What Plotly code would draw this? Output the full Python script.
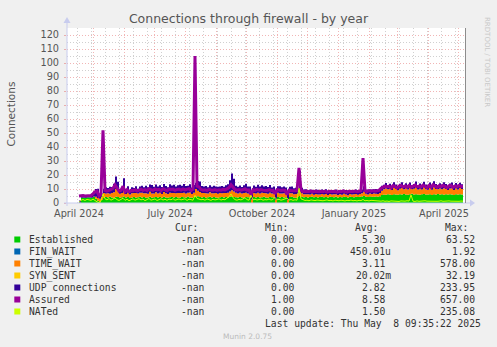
import plotly.graph_objects as go
import pandas as pd

# ---------------- data (2-day samples starting 2024-04-17) ----------------
START = "2024-04-17"

established = [
    0.3, 3.8, 4.0, 3.7, 4.1, 3.9, 3.8, 4.2, 3.0, 1.6,
    0.6, 2.2, 3.6, 4.3, 3.9, 4.4, 4.0, 3.7, 4.5, 4.2,
    3.8, 4.1, 4.6, 3.9, 4.2, 3.6, 4.0, 4.3, 3.8, 4.1,
    4.4, 3.9, 4.2, 3.7, 4.0, 4.5, 3.8, 4.1, 4.3, 3.9,
    4.2, 3.8, 4.4, 4.0, 3.7, 4.1, 4.3, 3.9, 4.2, 4.0,
    3.8, 4.3, 4.1, 3.9, 4.4, 4.0, 3.7, 4.2, 4.5, 4.8,
    4.3, 4.0, 4.2, 3.8, 4.1, 4.4, 3.9, 4.2, 4.0, 3.7,
    4.1, 4.3, 3.9, 4.2, 4.0, 4.4, 4.6, 4.3, 4.1, 3.9,
    4.2, 4.0, 3.8, 4.3, 4.1, 3.9, 0.0, 4.2, 4.0, 4.3,
    3.9, 4.1, 4.4, 4.0, 3.8, 4.2, 4.1, 3.9, 0.0, 4.3,
    4.0, 4.2, 3.9, 4.1, 0.0, 4.2, 4.4, 4.0, 3.8, 4.3,
    5.0, 4.4, 4.1, 4.3, 4.0, 4.2, 4.5, 4.1, 4.3, 4.0,
    4.2, 4.4, 4.1, 4.3, 4.0, 4.5, 4.2, 4.1, 4.4, 4.0,
    4.3, 4.1, 4.5, 4.2, 4.0, 4.4, 4.3, 4.1, 4.5, 4.2,
    4.4, 4.6, 5.0, 4.5, 4.3, 4.6, 4.4, 4.5, 4.7, 4.4,
    4.8, 5.8, 6.1, 5.9, 6.2, 6.0, 5.8, 6.3, 6.1, 5.9,
    6.2, 6.0, 6.4, 6.1, 5.9, 6.2, 6.6, 6.0, 6.3, 6.1,
    5.9, 6.2, 6.4, 6.0, 6.1, 6.3, 5.8, 6.2, 6.0, 6.4,
    6.1, 6.3, 5.9, 6.2, 6.0, 6.3, 6.1, 5.8, 6.2, 6.0,
    6.3, 6.1, 5.9,
]

time_wait = [
    0, 0, 0, 0, 0, 0, 0, 0.5, 1.5, 2.0,
    2.5, 2.0, 3.5, 2.5, 3.0, 2.2, 3.2, 4.0, 5.5, 4.5,
    2.8, 3.0, 4.0, 2.6, 3.2, 2.4, 3.0, 2.8, 3.4, 2.6,
    3.0, 3.4, 2.8, 3.2, 2.6, 3.5, 3.0, 2.7, 3.3, 2.9,
    3.1, 2.7, 3.4, 3.0, 2.8, 3.3, 2.9, 3.2, 2.7, 3.1,
    3.4, 2.9, 3.2, 2.8, 3.0, 3.5, 2.7, 3.1, 5.5, 4.0,
    3.5, 3.2, 2.9, 3.1, 2.7, 3.3, 3.0, 2.8, 3.2, 2.9,
    3.1, 2.7, 3.3, 3.0, 3.4, 3.8, 4.5, 4.0, 3.2, 2.9,
    3.1, 2.8, 3.3, 3.0, 2.7, 3.2, 2.5, 3.0, 2.8, 3.1,
    2.9, 3.2, 2.7, 3.0, 2.8, 3.1, 2.6, 2.9, 2.5, 3.0,
    2.8, 2.6, 3.0, 2.7, 2.4, 2.8, 2.5, 2.3, 2.6, 2.4,
    4.0, 2.5, 2.2, 2.0, 2.3, 1.9, 2.1, 1.8, 2.2, 2.0,
    1.8, 2.1, 1.9, 2.2, 1.7, 2.0, 1.8, 2.1, 1.9, 1.7,
    2.0, 1.8, 2.1, 1.9, 1.6, 2.0, 1.8, 2.2, 1.9, 1.7,
    2.0, 2.3, 3.0, 2.1, 1.8, 2.2, 2.0, 2.3, 1.9, 2.1,
    2.4, 3.0, 3.8, 4.5, 3.6, 4.2, 3.4, 4.6, 3.9, 3.2,
    4.0, 4.7, 3.5, 4.3, 3.8, 4.5, 3.2, 4.1, 4.8, 3.6,
    4.2, 3.5, 4.6, 3.9, 3.3, 4.4, 3.7, 4.9, 4.0, 3.4,
    4.3, 3.6, 4.7, 3.8, 3.2, 4.1, 4.5, 3.5, 4.2, 3.7,
    4.4, 3.9, 4.1,
]

udp = [
    1.5, 1.3, 1.5, 1.2, 1.4, 1.3, 1.6, 3.5, 5.5, 6.5,
    2.0, 2.5, 3.0, 4.5, 3.8, 5.0, 4.2, 6.0, 9.0, 6.5,
    3.5, 3.8, 9.0, 3.2, 4.5, 3.0, 4.2, 3.6, 4.8, 3.4,
    4.4, 5.0, 4.2, 5.5, 4.6, 5.2, 6.0, 4.8, 5.6, 5.0,
    5.4, 4.9, 5.8, 5.2, 4.7, 6.0, 5.3, 5.9, 4.8, 5.5,
    5.8, 5.1, 6.2, 5.4, 5.0, 5.9, 4.6, 5.6, 4.5, 7.0,
    7.5, 5.0, 4.6, 5.2, 4.4, 5.0, 4.7, 5.3, 4.5, 5.0,
    4.6, 5.1, 4.4, 5.5, 6.0, 8.0, 12.0, 9.0, 5.0, 4.8,
    5.2, 4.6, 5.5, 6.5, 5.0, 4.7, 6.0, 5.3, 4.8, 5.6,
    5.0, 5.4, 4.6, 5.2, 4.8, 5.5, 4.4, 5.0, 6.0, 4.7,
    5.1, 4.5, 4.9, 4.3, 6.0, 4.6, 4.8, 4.2, 4.5, 4.0,
    14.0, 4.0, 3.4, 3.6, 3.0, 3.3, 2.9, 3.4, 3.1, 3.5,
    3.0, 3.2, 2.8, 3.3, 3.0, 2.7, 3.1, 2.9, 3.4, 3.0,
    2.8, 3.2, 2.9, 3.1, 3.4, 2.8, 3.0, 2.7, 3.2, 2.9,
    3.1, 2.8, 4.0, 3.0, 3.3, 2.9, 3.2, 3.0, 3.4, 3.1,
    3.0, 3.5, 3.2, 3.8, 2.9, 3.6, 3.1, 4.0, 3.3, 2.8,
    3.6, 4.2, 3.0, 3.7, 3.2, 4.0, 2.9, 3.5, 4.3, 3.1,
    3.8, 3.2, 4.1, 3.4, 2.9, 3.9, 3.3, 4.4, 3.6, 3.0,
    3.7, 3.1, 4.2, 3.5, 2.8, 3.6, 4.0, 3.2, 3.9, 3.3,
    3.8, 3.4, 3.6,
]

assured = [
    5.0, 5.2, 5.4, 5.0, 5.3, 5.1, 5.4, 6.5, 8.0, 8.5,
    5.0, 6.0, 52.0, 9.0, 8.5, 9.0, 9.5, 10.5, 13.0, 11.0,
    8.5, 9.0, 12.0, 8.0, 9.5, 8.0, 9.0, 8.8, 9.5, 8.5,
    9.2, 9.8, 9.0, 9.6, 8.8, 10.2, 9.6, 9.0, 10.0, 9.4,
    9.8, 8.9, 10.2, 9.5, 8.8, 10.0, 9.6, 9.9, 9.1, 9.7,
    10.0, 9.3, 10.1, 9.4, 9.6, 10.3, 8.9, 9.8, 105.0, 12.0,
    11.5, 9.6, 9.2, 9.5, 8.9, 9.8, 9.3, 9.1, 9.6, 9.0,
    9.5, 9.2, 9.7, 9.4, 10.0, 11.0, 13.0, 11.5, 9.6, 9.2,
    9.6, 9.1, 9.5, 10.0, 9.2, 9.3, 6.0, 9.5, 9.0, 9.7,
    9.1, 9.6, 9.2, 9.3, 8.9, 9.6, 9.0, 9.1, 6.5, 9.5,
    9.1, 9.0, 9.3, 9.0, 6.0, 9.2, 9.0, 8.6, 8.7, 8.8,
    25.0, 9.0, 8.3, 8.4, 8.2, 8.2, 8.5, 8.0, 8.4, 8.1,
    8.0, 8.4, 8.1, 8.5, 7.8, 8.3, 8.0, 8.2, 8.3, 7.8,
    8.3, 8.0, 8.6, 8.1, 7.7, 8.4, 8.1, 8.3, 8.5, 8.0,
    8.4, 8.8, 32.0, 8.6, 8.1, 8.8, 8.4, 8.8, 8.5, 8.5,
    9.0, 10.5, 11.5, 12.0, 11.5, 12.0, 10.8, 12.5, 11.8, 10.8,
    12.0, 12.5, 11.5, 12.2, 11.3, 12.5, 11.2, 12.0, 12.8, 11.5,
    12.0, 11.5, 12.8, 11.8, 11.0, 12.5, 11.3, 13.0, 12.0, 11.2,
    12.3, 11.7, 12.6, 11.8, 11.0, 12.3, 12.4, 11.2, 12.2, 11.6,
    12.5, 11.8, 11.9,
]

nated = [
    0.5, 2.0, 2.5, 1.8, 2.6, 2.2, 1.9, 2.8, 1.5, 0.8,
    0.3, 1.5, 6.5, 3.0, 2.2, 3.2, 2.0, 2.8, 3.6, 2.4,
    1.8, 2.6, 3.4, 1.9, 2.7, 1.6, 2.4, 3.0, 2.0, 2.5,
    3.1, 2.2, 2.8, 1.7, 2.5, 3.2, 2.0, 2.6, 2.9, 1.8,
    2.4, 3.0, 2.1, 2.7, 1.9, 2.8, 2.3, 3.1, 2.0, 2.6,
    2.9, 2.2, 2.5, 3.0, 1.8, 2.7, 2.4, 2.0, 5.5, 3.2,
    2.8, 2.3, 2.6, 2.0, 2.9, 2.4, 1.9, 2.7, 2.2, 2.5,
    3.0, 2.1, 2.6, 2.3, 3.5, 4.5, 6.5, 3.8, 2.4, 2.0,
    2.6, 2.2, 2.9, 3.8, 2.4, 2.0, 5.5, 2.3, 2.7, 2.1,
    2.5, 2.8, 2.0, 2.4, 2.2, 2.9, 2.1, 2.5, 4.0, 2.3,
    2.6, 2.0, 2.4, 2.7, 3.5, 2.1, 2.5, 1.9, 2.3, 2.0,
    10.5, 3.0, 2.2, 1.8, 2.0, 1.6, 2.2, 1.9, 1.7, 2.1,
    1.8, 2.0, 1.6, 1.9, 2.2, 1.7, 1.9, 1.5, 2.0, 1.8,
    1.6, 2.0, 1.8, 1.5, 1.9, 1.7, 2.1, 1.6, 1.8, 1.5,
    1.9, 1.7, 2.5, 1.6, 1.8, 1.5, 1.9, 1.7, 1.6, 1.8,
    1.5, 1.3, 1.6, 1.2, 1.4, 1.1, 1.5, 1.3, 1.2, 1.4,
    1.1, 1.5, 1.2, 1.3, 1.6, 1.4, 5.8, 1.3, 1.1, 1.5,
    1.2, 1.4, 1.1, 1.6, 1.3, 1.2, 1.5, 1.1, 1.4, 1.2,
    1.3, 1.6, 1.2, 1.4, 1.1, 1.5, 1.3, 1.2, 1.6, 1.3,
    1.2, 1.4, 1.3,
]

# axis labels
x_label_dates = ["2024-04-17", "2024-07-17", "2024-10-17", "2025-01-17", "2025-04-17"]
x_label_texts = ["April 2024", "July 2024", "October 2024", "January 2025", "April 2025"]
x_range = ["2024-04-05", "2025-05-08"]

# legend table
legend_names = ["Established", "FIN_WAIT", "TIME_WAIT", "SYN_SENT", "UDP connections", "Assured", "NATed"]
legend_colors = ["#00CC00", "#0066B3", "#FF8000", "#FFCC00", "#330099", "#990099", "#CCFF00"]
legend_cur = ["-nan"] * 7
legend_min = ["0.00", "0.00", "0.00", "0.00", "0.00", "1.00", "0.00"]
legend_avg = ["5.30", "450.01u", "3.11", "20.02m", "2.82", "8.58", "1.50"]
legend_max = ["63.52", "1.92", "578.00", "32.19", "233.95", "657.00", "235.08"]

dates = pd.date_range(START, periods=len(established), freq="2D")

# ---------------- geometry helpers ----------------
W, H = 497, 347
L, R, T, B = 67, 465, 28, 203


def px(x):
    return (x - L) / (R - L)


def py(y):
    return (B - y) / (B - T)


fig = go.Figure()

stack = [("Established", established, "#00CC00"),
         ("TIME_WAIT", time_wait, "#FF8000"),
         ("UDP connections", udp, "#330099")]
for name, vals, col in stack:
    fig.add_trace(go.Scatter(
        x=dates, y=vals, name=name, stackgroup="s", mode="lines",
        line=dict(width=0, shape="hv", color=col), fillcolor=col,
        showlegend=False, hoverinfo="skip"))

fig.add_trace(go.Scatter(x=dates, y=assured, mode="lines", name="Assured",
                         line=dict(color="#990099", width=3), showlegend=False))
fig.add_trace(go.Scatter(x=dates, y=nated, mode="lines", name="NATed",
                         line=dict(color="#CCFF00", width=1), showlegend=False))
# dummy trace for label axis
fig.add_trace(go.Scatter(x=[x_label_dates[0]], y=[None], xaxis="x2", yaxis="y",
                         showlegend=False, hoverinfo="skip"))

MAJ = "rgba(225,90,90,0.45)"
MIN = "rgba(150,150,150,0.45)"
DASH = "1px,2px"
AX = "#C8CCEE"
TXT = "#555555"

fig.update_layout(
    width=W, height=H,
    margin=dict(l=L, r=W - R, t=T, b=H - B, pad=0),
    paper_bgcolor="#F0F0F0", plot_bgcolor="#FFFFFF",
    font=dict(family="DejaVu Sans", size=10, color=TXT),
    title=dict(text="Connections through firewall - by year",
               x=248.5 / W, y=1 - 19 / H, xanchor="center", yanchor="middle",
               font=dict(family="DejaVu Sans", size=12.5, color="#555555")),
    xaxis=dict(type="date", range=x_range, showticklabels=False,
               showgrid=True, gridcolor=MAJ, griddash=DASH, gridwidth=1,
               dtick="M1", tick0="2024-05-01", ticks="",
               showline=False, zeroline=False,
               minor=dict(dtick=14 * 86400000, tick0="2024-04-15", showgrid=True,
                          gridcolor=MIN, griddash=DASH, gridwidth=1)),
    xaxis2=dict(type="date", overlaying="x", matches="x", side="bottom",
                tickvals=x_label_dates, ticktext=x_label_texts, tickmode="array",
                showgrid=False, ticks="", showline=False, zeroline=False,
                tickfont=dict(family="DejaVu Sans", size=9.7, color=TXT),
                ticklabelstandoff=3),
    yaxis=dict(range=[0, 125], dtick=10, tick0=0, showgrid=True, gridcolor=MAJ,
               griddash=DASH, zeroline=False, showline=False,
               ticks="outside", ticklen=2, tickcolor=MAJ,
               tickfont=dict(family="DejaVu Sans", size=9.7, color=TXT),
               ticklabelstandoff=3,
               minor=dict(dtick=5, showgrid=True, gridcolor=MIN, griddash=DASH)),
    showlegend=False,
)

shapes = []
# axes with arrows
shapes.append(dict(type="line", xref="paper", yref="paper", x0=px(64), x1=px(470),
                   y0=0, y1=0, line=dict(color=AX, width=1)))
shapes.append(dict(type="line", xref="paper", yref="paper", x0=0, x1=0,
                   y0=py(206), y1=py(22), line=dict(color=AX, width=1)))
shapes.append(dict(type="path", xref="paper", yref="paper",
                   path=f"M {px(470)} {py(199.5)} L {px(475)} {py(203)} L {px(470)} {py(206.5)} Z",
                   fillcolor=AX, line=dict(width=0)))
shapes.append(dict(type="path", xref="paper", yref="paper",
                   path=f"M {px(63.5)} {py(23)} L {px(67)} {py(17)} L {px(70.5)} {py(23)} Z",
                   fillcolor=AX, line=dict(width=0)))
# right edge line
shapes.append(dict(type="line", xref="paper", yref="paper", x0=px(465.5), x1=px(465.5),
                   y0=0, y1=1, line=dict(color="#8C8C8C", width=1)))

ann = []
ann.append(dict(text="Connections", x=px(10.5), y=py(114), xref="paper", yref="paper",
                textangle=-90, showarrow=False, xanchor="center", yanchor="middle",
                font=dict(family="DejaVu Sans", size=10.5, color=TXT)))
ann.append(dict(text="RRDTOOL / TOBI OETIKER", x=px(487), y=py(62), xref="paper", yref="paper",
                textangle=90, showarrow=False, xanchor="center", yanchor="middle",
                font=dict(family="DejaVu Sans", size=7, color="#C8C8C8")))

MONO = "DejaVu Sans Mono"
LF = 9.7
LC = "#333333"
CW = 5.85  # monospace char width in px


def txt(s, x, y, anchor, color=LC, size=LF, family=MONO):
    ann.append(dict(text=s, x=px(x), y=py(y), xref="paper", yref="paper", showarrow=False,
                    xanchor=anchor, yanchor="middle",
                    font=dict(family=family, size=size, color=color)))


HEAD_Y = 227.5
txt("Cur:", 199.5, HEAD_Y, "right")
txt("Min:", 289.5, HEAD_Y, "right")
txt("Avg:", 380.0, HEAD_Y, "right")
txt("Max:", 470.0, HEAD_Y, "right")


def num(s, xr, y):
    # rrdtool "%6.2lf%s": unit suffix occupies one extra column
    if s and s[-1].isalpha():
        txt(s, xr + CW, y, "right")
    else:
        txt(s + "\u00a0", xr + CW, y, "right")


for k, name in enumerate(legend_names):
    y = 239.5 + 12 * k
    shapes.append(dict(type="rect", xref="paper", yref="paper",
                       x0=px(14.3), x1=px(20.3), y0=py(y + 3), y1=py(y - 3),
                       fillcolor=legend_colors[k], line=dict(width=0)))
    txt(name, 26.5, y, "left")
    txt(legend_cur[k], 205.7, y, "right")
    txt(legend_min[k], 296.2, y, "right")
    num(legend_avg[k], 386.7, y)
    txt(legend_max[k], 476.7, y, "right")

txt("Last update: Thu May\u00a0\u00a08 09:35:22 2025", 482.5, 323.5, "right")
txt("Munin 2.0.75", 247.5, 336.5, "center", color="#BBBBBB", size=7.5, family="DejaVu Sans")

fig.update_layout(shapes=shapes, annotations=ann)
fig.write_html("out.html")
